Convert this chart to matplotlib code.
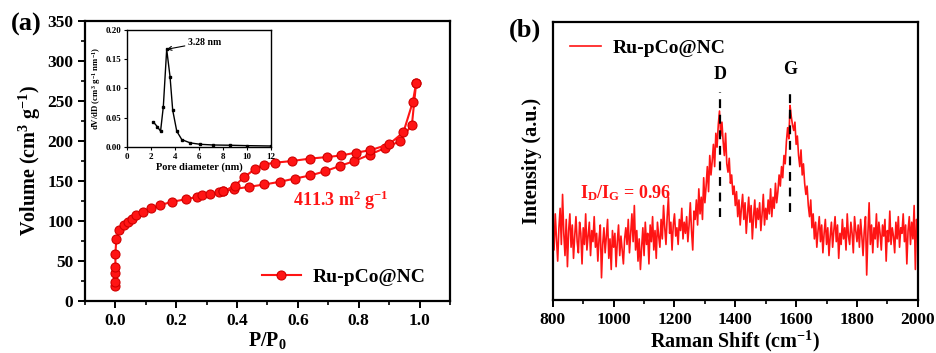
import numpy as np
import matplotlib
matplotlib.use("Agg")
import matplotlib.pyplot as plt
from matplotlib.ticker import MultipleLocator, FormatStrFormatter

plt.rcParams["font.family"] = "Liberation Serif"
plt.rcParams["font.weight"] = "bold"
plt.rcParams["axes.labelweight"] = "bold"
plt.rcParams["mathtext.fontset"] = "custom"
plt.rcParams["mathtext.rm"] = "Liberation Serif:bold"
plt.rcParams["mathtext.it"] = "Liberation Serif:italic:bold"
plt.rcParams["mathtext.bf"] = "Liberation Serif:bold"

# --- (a) N2 isotherm: adsorption then desorption branch ---
ads_p = [0.0, 0.0, 0.0, 0.0, 0.0, 0.003, 0.013, 0.027, 0.04, 0.053, 0.068, 0.09,
         0.117, 0.148, 0.186, 0.232, 0.268, 0.285, 0.312, 0.34, 0.354, 0.389,
         0.438, 0.49, 0.54, 0.589, 0.641, 0.688, 0.739, 0.786, 0.836, 0.885,
         0.936, 0.975, 0.989]
ads_v = [18.7, 24, 34.5, 43, 58.7, 77.4, 88.6, 95, 99, 103, 107, 111.5,
         115.7, 120, 124, 127.3, 130, 132, 134, 135.7, 137, 139.8,
         142.7, 145.7, 149, 153, 157, 162, 169, 175, 183, 191,
         200, 220.6, 273]
des_p = [0.989, 0.978, 0.947, 0.9, 0.838, 0.792, 0.743, 0.696, 0.639, 0.58,
         0.526, 0.487, 0.458, 0.424, 0.392, 0.354]
des_v = [273, 249, 211, 196, 188.5, 185.6, 182, 180, 178, 175,
         173, 170.6, 164.8, 155, 144, 137]

# inset: pore size distribution
pore_d = [2.19, 2.52, 2.8, 3.03, 3.31, 3.59, 3.81, 4.15, 4.57, 5.27, 6.1,
          7.2, 8.6, 10.0, 12.0]
pore_dv = [0.043, 0.035, 0.027, 0.069, 0.167, 0.12, 0.063, 0.027, 0.0126,
           0.007, 0.0046, 0.0034, 0.003, 0.0023, 0.0017]

# --- (b) Raman spectrum, 800-2000 cm-1 every 4 cm-1 (arb. units) ---
raman_shift = np.arange(800, 2001, 4)
raman_int = [
    27, 18, 31, 22, 14, 26, 33, 20, 38, 24,
    16, 29, 12, 25, 31, 19, 27, 15, 23, 30,
    21, 17, 28, 24, 13, 26, 20, 31, 18, 23,
    28, 16, 25, 21, 30, 19, 24, 14, 22, 27,
    8, 20, 26, 17, 23, 29, 15, 22, 11, 25,
    19, 24, 12, 21, 27, 16, 23, 18, 13, 22,
    26, 20, 29, 17, 24, 31, 21, 34, 18, 25,
    14, 22, 11, 19, 26, 16, 28, 20, 24, 13,
    27, 21, 30, 18, 25, 15, 28, 23, 19, 29,
    22, 34, 26, 20, 30, 37, 24, 28, 18, 27,
    31, 23, 26, 20, 29, 25, 33, 22, 28, 24,
    30, 21, 27, 35, 25, 18, 32, 29, 36, 27,
    40, 31, 37, 29, 44, 35, 41, 48, 39, 52,
    45, 50, 56, 48, 60, 55, 63, 68, 59, 64,
    57, 52, 60, 49, 46, 51, 42, 45, 38, 41,
    34, 39, 30, 36, 27, 33, 38, 29, 35, 24,
    31, 37, 28, 34, 22, 30, 36, 26, 33, 29,
    35, 25, 31, 38, 27, 33, 29, 36, 31, 40,
    30, 37, 33, 42, 35, 39, 45, 41, 48, 44,
    52, 49, 57, 62, 58, 70, 66, 63, 61, 64,
    56, 59, 52, 48, 54, 45, 49, 42, 38, 41,
    34, 30, 36, 26, 31, 22, 28, 19, 25, 30,
    21, 27, 17, 24, 29, 20, 26, 16, 23, 28,
    19, 25, 30, 21, 27, 15, 24, 20, 29, 22,
    26, 18, 31, 23, 20, 28, 24, 17, 30, 25,
    21, 27, 19, 29, 23, 16, 25, 30, 9, 24,
    35, 20, 27, 17, 26, 22, 31, 19, 28, 24,
    18, 27, 23, 29, 14, 25, 21, 32, 20, 26,
    23, 17, 28, 22, 30, 19, 26, 24, 31, 21,
    27, 13, 25, 30, 20, 28, 22, 34, 11, 29,
    24,
]
d_band = 1350
g_band = 1580

red = "#ff1414"

fig = plt.figure(figsize=(9.37, 3.53), dpi=100)


def style_axes(ax, size=12.5, spine=1.6):
    for s in ax.spines.values():
        s.set_linewidth(spine)
    ax.tick_params(which="major", direction="out", length=5, width=1.4,
                   labelsize=size)
    ax.tick_params(which="minor", direction="out", length=3, width=1.2)


# panel (a)
ax1 = fig.add_axes([0.0907, 0.1473, 0.3895, 0.793])
ax1.plot(ads_p, ads_v, "-o", color=red, lw=1.5, ms=6.5, mec="#d00000",
         mew=0.8, label="Ru-pCo@NC")
ax1.plot(des_p, des_v, "-o", color=red, lw=1.5, ms=6.5, mec="#d00000",
         mew=0.8)
ax1.set_xlim(-0.1, 1.1)
ax1.set_ylim(0, 350)
ax1.xaxis.set_major_locator(MultipleLocator(0.2))
ax1.xaxis.set_minor_locator(MultipleLocator(0.1))
ax1.yaxis.set_major_locator(MultipleLocator(50))
ax1.yaxis.set_minor_locator(MultipleLocator(25))
style_axes(ax1)
ax1.set_xlabel(r"P/P$_0$", fontsize=14.5, labelpad=1)
ax1.set_ylabel(r"Volume (cm$^3$ g$^{-1}$)", fontsize=14.5, labelpad=3)
ax1.text(0.585, 126, r"411.3 m$^2$ g$^{-1}$", color=red, fontsize=13,
         va="center")
ax1.legend(loc="center right", frameon=False, fontsize=14, handlelength=2.0,
           handletextpad=0.6, bbox_to_anchor=(0.98, 0.086))
fig.text(0.012, 0.93, "(a)", fontsize=19, va="center")

# inset
axi = fig.add_axes([0.1355, 0.5836, 0.1537, 0.3314])
axi.plot(pore_d, pore_dv, "-s", color="black", lw=1.0, ms=1.8)
axi.set_xlim(0, 12)
axi.set_ylim(0, 0.2)
axi.xaxis.set_major_locator(MultipleLocator(2))
axi.yaxis.set_major_locator(MultipleLocator(0.05))
axi.yaxis.set_major_formatter(FormatStrFormatter("%.2f"))
for s in axi.spines.values():
    s.set_linewidth(1.0)
axi.tick_params(direction="out", length=2.5, width=0.8, labelsize=6.5, pad=1.5)
axi.set_xlabel("Pore diameter (nm)", fontsize=7.5, labelpad=1)
axi.set_ylabel(r"dV/dD (cm$^3$ g$^{-1}$ nm$^{-1}$)", fontsize=6.3, labelpad=2)
axi.annotate("3.28 nm", xy=(3.31, 0.167), xytext=(5.05, 0.179), fontsize=7,
             va="center",
             arrowprops=dict(arrowstyle="->", color="black", lw=0.8,
                             shrinkA=0, shrinkB=0))

# panel (b)
ax2 = fig.add_axes([0.590, 0.150, 0.3895, 0.7875])
ax2.plot(raman_shift, raman_int, color=red, lw=1.2, label="Ru-pCo@NC")
ax2.set_xlim(800, 2000)
ax2.set_ylim(0, 100)
ax2.xaxis.set_major_locator(MultipleLocator(200))
ax2.xaxis.set_minor_locator(MultipleLocator(100))
ax2.set_yticks([])
style_axes(ax2)
ax2.set_xlabel(r"Raman Shift (cm$^{-1}$)", fontsize=14.5, labelpad=1)
ax2.set_ylabel("Intensity (a.u.)", fontsize=14.5, labelpad=8)
ax2.plot([d_band, d_band], [30, 75], "--", color="black", lw=1.6,
         dashes=(4, 3))
ax2.plot([g_band, g_band], [31.5, 76], "--", color="black", lw=1.6,
         dashes=(4, 3))
ax2.text(d_band, 78, "D", fontsize=13, ha="center", va="bottom")
ax2.text(g_band, 80, "G", fontsize=13, ha="center", va="bottom")
ax2.text(889, 38.5, r"I$_\mathrm{D}$/I$_\mathrm{G}$ = 0.96", color=red,
         fontsize=13, va="center")
ax2.legend(loc="upper left", frameon=False, fontsize=14, handlelength=1.6,
           handletextpad=0.6, bbox_to_anchor=(0.0, 1.0))
fig.text(0.543, 0.915, "(b)", fontsize=19, va="center")

# tick labels bold (set after a draw so every tick exists)
fig.canvas.draw()
for ax in (ax1, axi, ax2):
    for lab in ax.get_xticklabels() + ax.get_yticklabels():
        lab.set_fontweight("bold")

fig.savefig("out.png", dpi=100)
